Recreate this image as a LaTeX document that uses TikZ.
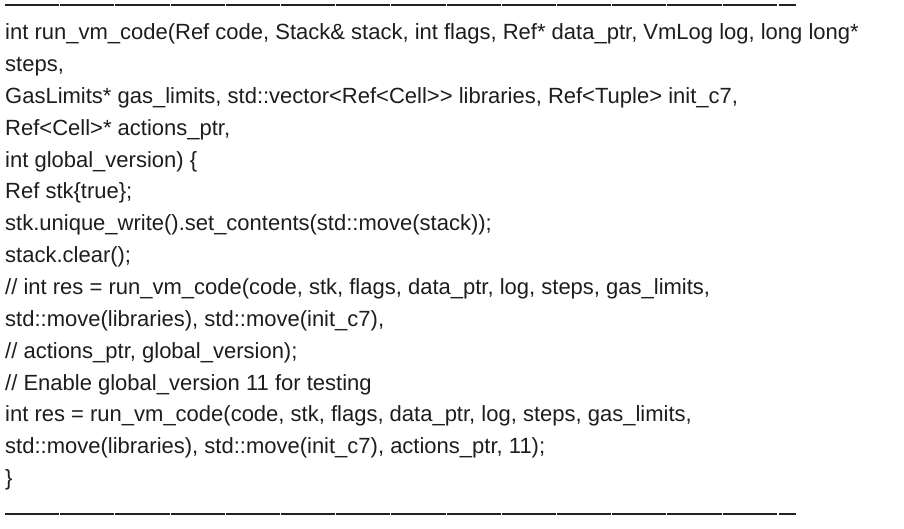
\documentclass[tikz,border=0pt]{standalone}
\usepackage{fontspec}
\setmainfont{Liberation Sans}
\definecolor{ink}{HTML}{1D1D1F}
\definecolor{rulec}{HTML}{222222}
\begin{document}
\begin{tikzpicture}[x=1pt,y=-1pt,
  codeline/.style={anchor=mid west,inner sep=0pt,text=ink,font=\fontsize{22}{26}\selectfont},
  rulepiece/.style={draw=rulec,line width=2pt}]
\useasboundingbox (0,0) rectangle (904,528);
% top and bottom rules made of em-dash pieces
\foreach \i in {0,...,13}{
  \coordinate (ta\i) at ({5+55.2*\i},5);
  \coordinate (tb\i) at ({5+55.2*\i+54.2},5);
  \draw[rulepiece] (ta\i) -- (tb\i);
  \coordinate (ba\i) at ({5+55.2*\i},514);
  \coordinate (bb\i) at ({5+55.2*\i+54.2},514);
  \draw[rulepiece] (ba\i) -- (bb\i);
}
\coordinate (tc) at (778.8,5); \coordinate (td) at (796,5);
\draw[rulepiece] (tc) -- (td);
\coordinate (bc) at (778.8,514); \coordinate (bd) at (796,514);
\draw[rulepiece] (bc) -- (bd);
% code lines
\node[codeline] (l1) at (5,37.0) {int run\_vm\_code(Ref code, Stack\& stack, int flags, Ref* data\_ptr, VmLog log, long long*};
\node[codeline] (l2) at (5,68.9) {steps,};
\node[codeline] (l3) at (5,100.7) {GasLimits* gas\_limits, std::vector<Ref<Cell>{}> libraries, Ref<Tuple> init\_c7,};
\node[codeline] (l4) at (5,132.6) {Ref<Cell>* actions\_ptr,};
\node[codeline] (l5) at (5,164.4) {int global\_version) \{};
\node[codeline] (l6) at (5,196.3) {Ref stk\{true\};};
\node[codeline] (l7) at (5,228.2) {stk.unique\_write().set\_contents(std::move(stack));};
\node[codeline] (l8) at (5,260.0) {stack.clear();};
\node[codeline] (l9) at (5,291.9) {// int res = run\_vm\_code(code, stk, flags, data\_ptr, log, steps, gas\_limits,};
\node[codeline] (l10) at (5,323.7) {std::move(libraries), std::move(init\_c7),};
\node[codeline] (l11) at (5,355.6) {// actions\_ptr, global\_version);};
\node[codeline] (l12) at (5,387.5) {// Enable global\_version 11 for testing};
\node[codeline] (l13) at (5,419.3) {int res = run\_vm\_code(code, stk, flags, data\_ptr, log, steps, gas\_limits,};
\node[codeline] (l14) at (5,451.2) {std::move(libraries), std::move(init\_c7), actions\_ptr, 11);};
\node[codeline] (l15) at (5,483.0) {\}};
\end{tikzpicture}
\end{document}
